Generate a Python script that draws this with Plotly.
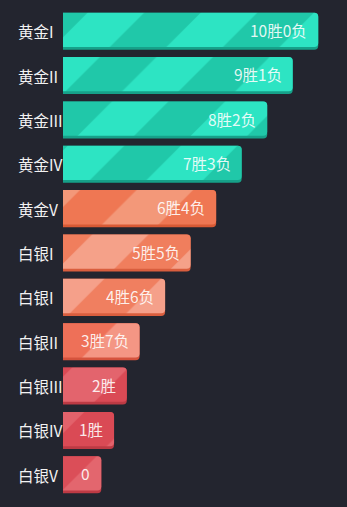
import plotly.graph_objects as go

categories = ["黄金I", "黄金II", "黄金III", "黄金IV", "黄金V",
              "白银I", "白银I", "白银II", "白银III", "白银IV", "白银V"]
bar_values = [10, 9, 8, 7, 6, 5, 4, 3, 2.5, 2, 1.5]
bar_labels = ["10胜0负", "9胜1负", "8胜2负", "7胜3负", "6胜4负",
              "5胜5负", "4胜6负", "3胜7负", "2胜", "1胜", "0"]

base_colors = ["#2de4c3", "#2de4c3", "#2de4c3", "#2de4c3", "#f39879",
               "#f5a189", "#f5a08a", "#f49684", "#e3646d", "#e2626b", "#e3666e"]
stripe_colors = ["#20c8a9", "#20c8a9", "#20c8a9", "#20c8a9", "#ef7753",
                 "#f07e5d", "#f07f60", "#ee7058", "#da4a55", "#da4a55", "#db4e58"]
shadow_colors = ["#16a189", "#16a189", "#16a189", "#16a189", "#d85a35",
                 "#d95e3e", "#d95e3e", "#d5533d", "#bd3a44", "#bd3a44", "#bd3a44"]

BG = "#23252f"
FONT = "Noto Sans CJK SC, Noto Sans, sans-serif"

ypos = list(range(len(categories)))
W = 0.835
S = 0.062

fig = go.Figure()
fig.add_trace(go.Bar(
    x=bar_values, y=ypos, orientation="h",
    width=W, offset=-W / 2,
    marker=dict(color=shadow_colors, cornerradius=4, line=dict(width=0)),
    hoverinfo="skip", showlegend=False,
))
for v, y, bc, sc in zip(bar_values, ypos, base_colors, stripe_colors):
    fig.add_trace(go.Bar(
        x=[v], y=[y], orientation="h",
        width=W - S, offset=-W / 2,
        marker=dict(
            color=bc, cornerradius=4, line=dict(width=0),
            pattern=dict(shape="/", fgcolor=sc, bgcolor=bc,
                         size=80, solidity=0.5, fillmode="replace"),
        ),
        hoverinfo="skip", showlegend=False,
    ))

for v, y, t in zip(bar_values, ypos, bar_labels):
    fig.add_annotation(x=v, y=y - S / 2, text=t, showarrow=False,
                       xanchor="right", yanchor="middle", xshift=-9,
                       font=dict(family=FONT, size=15.5, color="rgba(255,255,255,0.88)"))

for y, c in zip(ypos, categories):
    fig.add_annotation(x=0, xref="paper", y=y, text=c, showarrow=False,
                       xanchor="left", yanchor="middle", xshift=-47,
                       font=dict(family=FONT, size=15.5, color="#f2f2f2"))

fig.update_layout(
    width=347, height=507,
    margin=dict(l=63, r=16, t=9, b=10),
    paper_bgcolor=BG, plot_bgcolor=BG,
    barmode="overlay",
    font=dict(family=FONT, color="#f2f2f2", size=14),
    xaxis=dict(range=[0, 10.5], visible=False, showgrid=False, zeroline=False),
    yaxis=dict(range=[10.5, -0.5], tickmode="array", tickvals=ypos,
               showticklabels=False, showgrid=False, zeroline=False,
               showline=False, ticks=""),
)

fig.write_html("out.html")
